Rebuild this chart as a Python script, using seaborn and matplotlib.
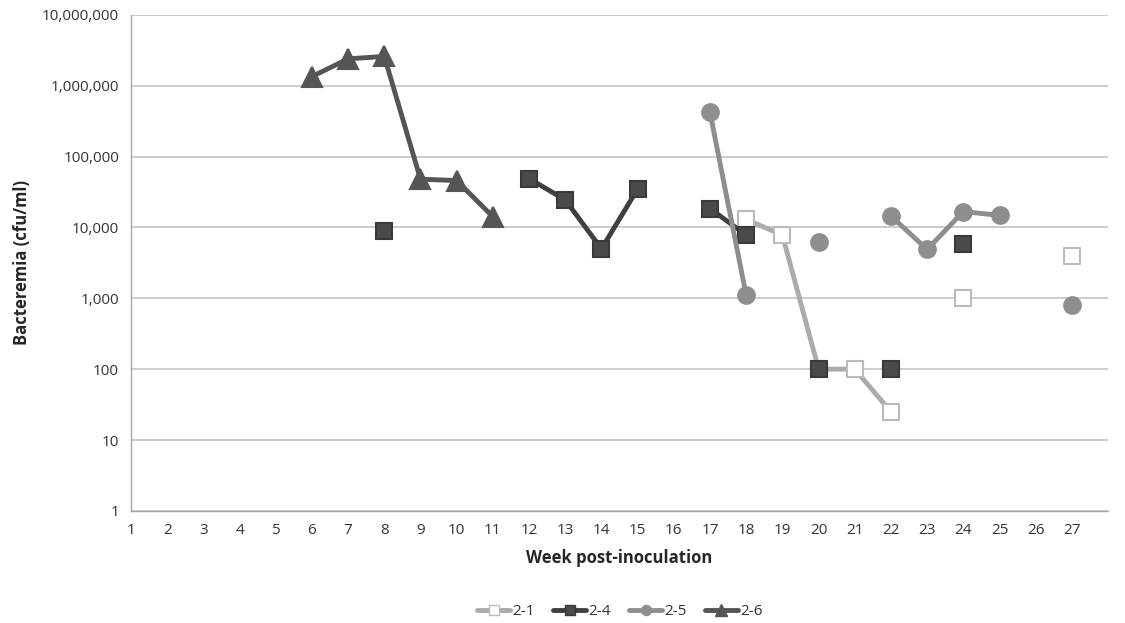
import numpy as np
import pandas as pd
import matplotlib
matplotlib.use("Agg")
import matplotlib.pyplot as plt
from matplotlib.lines import Line2D
from matplotlib.ticker import FuncFormatter, FixedLocator
import seaborn as sns

# weeks post-inoculation and bacteremia (cfu/ml); NaN = no sample
weeks = list(range(1, 28))
nan = np.nan

s21 = [nan]*17 + [13000, 7800, 100, 100, 25, nan, 1000, nan, nan, 4000]
s24 = [nan]*7 + [9000, nan, nan, nan, 49000, 24500, 5000, 35000, nan, 18500, 7800,
                 nan, 100, nan, 100, nan, 5800, nan, nan, nan]
s25 = [nan]*16 + [420000, 1100, nan, 6300, nan, 14500, 4900, 16800, 14800, nan, 800]
s26 = [nan]*5 + [1350000, 2400000, 2600000, 48000, 46000, 14200] + [nan]*16

series_names = ["2-1", "2-4", "2-5", "2-6"]
series_vals = [s21, s24, s25, s26]

line_colors = {"2-1": "#ABABAB", "2-4": "#3F3F3F", "2-5": "#8E8E8E", "2-6": "#555555"}
markers = {"2-1": "s", "2-4": "s", "2-5": "o", "2-6": "^"}
face = {"2-1": "white", "2-4": "#4A4A4A", "2-5": "#8E8E8E", "2-6": "#555555"}
edge = {"2-1": "#BBBBBB", "2-4": "#3A3A3A", "2-5": "#8E8E8E", "2-6": "#555555"}
msize = {"2-1": 11, "2-4": 11, "2-5": 12, "2-6": 15}


def to_frame(name, vals):
    df = pd.DataFrame({"week": weeks, "cfu": vals})
    # give each run of consecutive samples its own unit so gaps stay open
    df["run"] = df["cfu"].isna().cumsum()
    df = df.dropna()
    df["series"] = name
    return df


sns.set_style("white")
plt.rcParams["font.family"] = ["Open Sans", "DejaVu Sans"]

fig, ax = plt.subplots(figsize=(11.25, 6.23), dpi=100)
fig.subplots_adjust(left=0.1164, right=0.985, top=0.976, bottom=0.180)

for name, vals in zip(series_names, series_vals):
    d = to_frame(name, vals)
    sns.lineplot(data=d, x="week", y="cfu", units="run", estimator=None,
                 color=line_colors[name], lw=3.5, marker=markers[name],
                 markersize=msize[name], markerfacecolor=face[name],
                 markeredgecolor=edge[name], markeredgewidth=1.5,
                 ax=ax, legend=False)

ax.set_yscale("log")
ax.set_ylim(1, 1e7)
ax.set_xlim(1, 28)
ax.xaxis.set_major_locator(FixedLocator(weeks))
ax.yaxis.set_major_locator(FixedLocator([10**k for k in range(8)]))
ax.yaxis.set_minor_locator(FixedLocator([]))
ax.yaxis.set_major_formatter(FuncFormatter(lambda v, p: f"{int(round(v)):,}"))

ax.grid(axis="y", color="#C4C4C4", lw=1.2)
ax.set_axisbelow(True)
for s in ["top", "right"]:
    ax.spines[s].set_visible(False)
for s in ["left", "bottom"]:
    ax.spines[s].set_color("#A8A8A8")
    ax.spines[s].set_linewidth(1.0)
ax.tick_params(axis="both", length=5, color="#A8A8A8", labelsize=11,
               labelcolor="#333333", direction="out")

ax.set_xlabel("Week post-inoculation", fontsize=12, fontweight="bold", labelpad=8)
ax.set_ylabel("Bacteremia (cfu/ml)", fontsize=12, fontweight="bold", labelpad=8)

handles = [Line2D([0], [0], color=line_colors[n], lw=3.5, marker=markers[n],
                  markersize=msize[n] * 0.6, markerfacecolor=face[n],
                  markeredgecolor=edge[n]) for n in series_names]
ax.legend(handles, series_names, loc="upper center", bbox_to_anchor=(0.5, -0.16),
          ncol=4, frameon=False, fontsize=11, handlelength=2.2,
          handletextpad=0.1, columnspacing=1.2, labelcolor="#333333")

plt.savefig("out.png", dpi=100)
